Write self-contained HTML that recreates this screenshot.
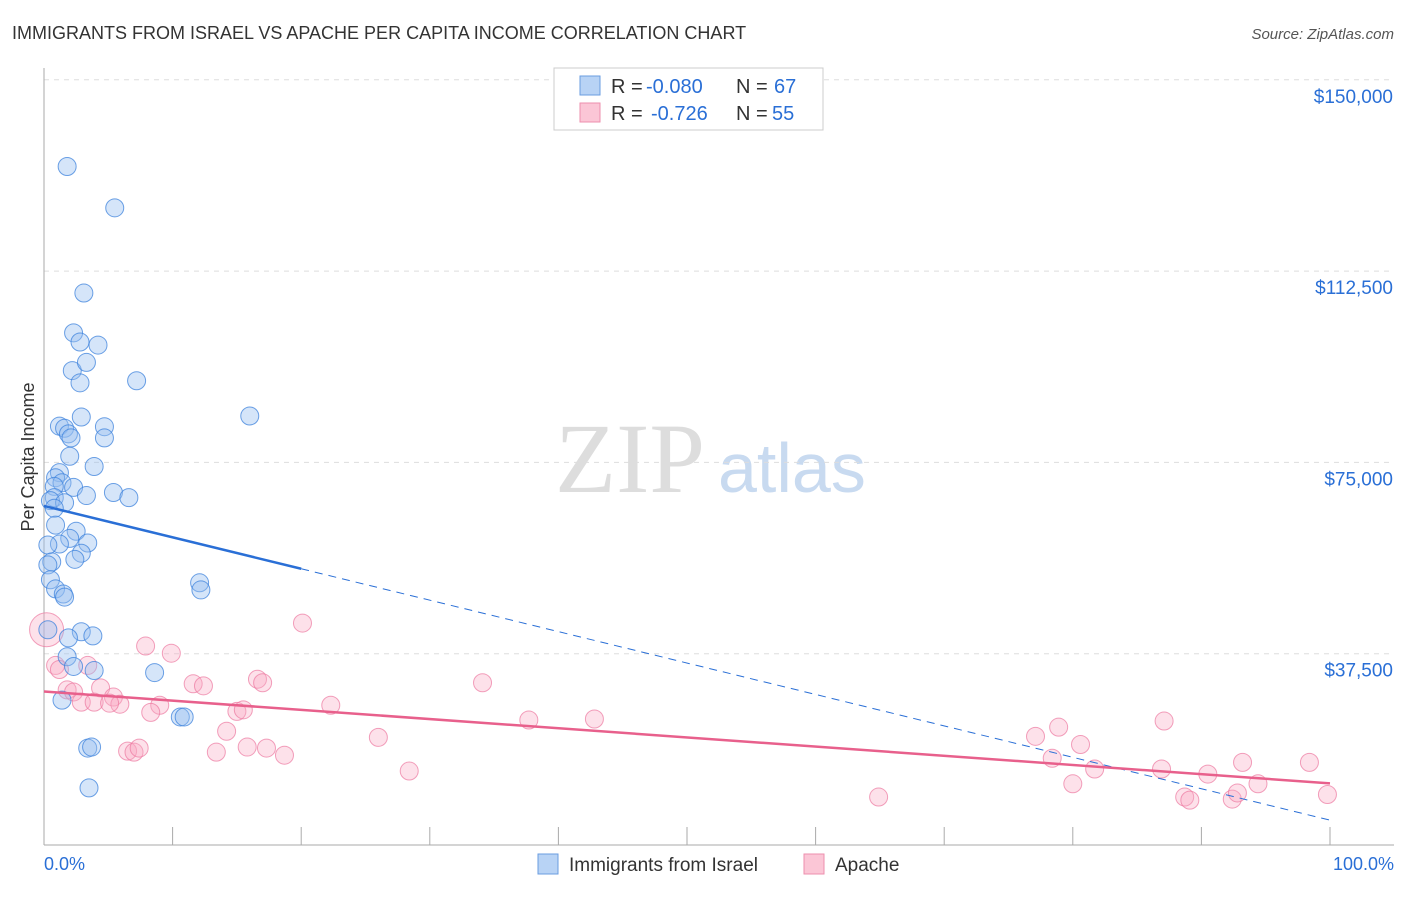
<!DOCTYPE html>
<html><head><meta charset="utf-8">
<style>
body{margin:0;background:#fff;font-family:"Liberation Sans",sans-serif;}
#wrap{position:relative;width:1406px;height:892px;}
</style></head>
<body>
<div id="wrap">
<svg id="chart" width="1406" height="892" xmlns="http://www.w3.org/2000/svg">
<text x="12" y="39" font-size="18" fill="#333">IMMIGRANTS FROM ISRAEL VS APACHE PER CAPITA INCOME CORRELATION CHART</text>
<text x="1394" y="39" font-size="15" fill="#555" font-style="italic" text-anchor="end">Source: ZipAtlas.com</text>
<text x="34" y="457" font-size="18" fill="#333" text-anchor="middle" transform="rotate(-90 34 457)">Per Capita Income</text>
<text x="555" y="492" font-size="100" fill="#ddd" font-family="Liberation Serif,serif">ZIP</text>
<text x="718" y="492" font-size="70" fill="#c8daf0">atlas</text>
<g id="grid"></g>
<g id="marks"></g>
<g>
<rect x="554" y="68" width="269" height="62" fill="#fff" stroke="#ccc"/>
<rect x="580" y="76" width="20" height="19" fill="#b8d3f5" stroke="#6a9de0"/>
<rect x="580" y="103" width="20" height="19" fill="#fbc6d6" stroke="#ee8fae"/>
<text x="611" y="93" font-size="20" fill="#333">R =</text>
<text x="646" y="93" font-size="20" fill="#2a6fd6">-0.080</text>
<text x="736" y="93" font-size="20" fill="#333">N =</text>
<text x="774" y="93" font-size="20" fill="#2a6fd6">67</text>
<text x="611" y="120" font-size="20" fill="#333">R =</text>
<text x="651" y="120" font-size="20" fill="#2a6fd6">-0.726</text>
<text x="736" y="120" font-size="20" fill="#333">N =</text>
<text x="772" y="120" font-size="20" fill="#2a6fd6">55</text>
</g>
<g>
<rect x="538" y="854" width="20" height="20" fill="#b8d3f5" stroke="#6a9de0"/>
<text x="569" y="871" font-size="19" fill="#333">Immigrants from Israel</text>
<rect x="804" y="854" width="20" height="20" fill="#fbc6d6" stroke="#ee8fae"/>
<text x="835" y="871" font-size="19" fill="#333">Apache</text>
</g>
<text x="44" y="870" font-size="18" fill="#2a6fd6">0.0%</text>
<text x="1394" y="870" font-size="18" fill="#2a6fd6" text-anchor="end">100.0%</text>
</svg>
</div>
<script>
const yTicks=[37500,75000,112500,150000];
const yTickLabels=["$37,500","$75,000","$112,500","$150,000"];
const xTicks=[0,10,20,30,40,50,60,70,80,90,100];
const israelX=[1.8,5.5,3.1,2.3,2.8,4.2,2.2,3.3,2.8,7.2,16.0,2.9,1.2,1.6,1.9,2.1,4.7,4.7,2.0,3.9,1.2,0.9,1.4,0.8,2.3,3.3,5.4,6.6,0.8,0.5,1.6,0.8,0.9,2.5,2.0,3.4,1.2,0.3,2.9,2.4,0.6,0.3,0.5,0.9,1.5,1.6,12.1,12.2,0.3,2.9,1.9,3.8,1.8,2.3,3.9,8.6,1.4,10.6,10.9,3.4,3.7,3.5];
const israelY=[133000,124900,108200,100400,98600,98000,93000,94600,90600,91000,84100,83900,82100,81700,80600,79800,82000,79800,76200,74200,73000,72000,71000,70300,70100,68500,69100,68100,68100,67500,67100,66000,62700,61500,60100,59200,59000,58800,57200,56000,55500,54900,52000,50200,49200,48600,51400,50000,42200,41800,40600,41000,36900,35000,34200,33800,28400,25100,25100,19000,19200,11200];
const apacheX=[0.2,0.9,1.2,3.4,1.8,2.3,2.9,4.4,3.9,5.4,5.9,5.1,7.9,9.9,9.0,8.3,11.6,12.4,6.5,7.0,7.4,13.4,14.2,15.0,15.5,15.8,16.6,17.0,17.3,18.7,20.1,22.3,26.0,28.4,34.1,37.7,42.8,64.9,77.1,78.4,78.9,80.0,80.6,81.7,86.9,87.1,88.7,89.1,90.5,92.4,92.8,93.2,94.4,98.4,99.8];
const apacheY=[42200,35200,34400,35200,30400,30000,28000,30800,28000,29000,27600,27800,39000,37600,27400,26000,31600,31200,18400,18200,19000,18200,22300,26200,26500,19200,32500,31800,19000,17600,43500,27400,21100,14500,31800,24500,24700,9400,21300,17000,23100,12000,19700,14900,14900,24300,9400,8800,13900,9000,10200,16200,12000,16200,9900];
const big=[true].concat(new Array(54).fill(false));
const X0=44,X1=1330,Y0=845,pxPer=191.3/37500;
const sx=p=>X0+(X1-X0)*p/100;
const sy=v=>Y0-v*pxPer;
const NS="http://www.w3.org/2000/svg";
const grid=document.getElementById('grid'),marks=document.getElementById('marks');
function mk(tag,attrs,parent){const e=document.createElementNS(NS,tag);for(const k in attrs)e.setAttribute(k,attrs[k]);parent.appendChild(e);return e;}
yTicks.forEach((t,i)=>{
  const l=mk('line',{x1:X0,x2:1394,y1:sy(t),y2:sy(t),stroke:'#ddd','stroke-dasharray':'5,5'},grid);
  
  
  const tx=mk('text',{x:1393,y:sy(t)+23,'font-size':19,fill:'#2a6fd6','text-anchor':'end'},grid);
  tx.textContent=yTickLabels[i];
  
  
});
const ax=mk('line',{x1:X0,x2:X0,y1:68,y2:Y0,stroke:'#aaa'},grid);


const bx=mk('line',{x1:X0,x2:1394,y1:Y0,y2:Y0,stroke:'#aaa'},grid);


xTicks.forEach(t=>{
  const l=mk('line',{x1:sx(t),x2:sx(t),y1:Y0,y2:Y0-18,stroke:'#aaa'},grid);
  
  
});
apacheX.forEach((x,i)=>{
  const c=mk('circle',{cx:sx(x),cy:sy(apacheY[i]),r:big[i]?17:9,fill:'rgba(248,170,195,0.35)',stroke:'rgba(236,120,160,0.7)','stroke-width':1},marks);
  
  
});
israelX.forEach((x,i)=>{
  const c=mk('circle',{cx:sx(x),cy:sy(israelY[i]),r:9,fill:'rgba(150,190,240,0.4)',stroke:'rgba(60,130,220,0.75)','stroke-width':1},marks);
  
  
});
function fit(xs,ys){const n=xs.length;let mx=0,my=0;xs.forEach((x,i)=>{mx+=x;my+=ys[i];});mx/=n;my/=n;let a=0,b=0;xs.forEach((x,i)=>{a+=(x-mx)*(ys[i]-my);b+=(x-mx)*(x-mx);});const s=a/b;return[my-s*mx,s];}
const fi=[66470,-616];
const fa=fit(apacheX,apacheY);
const t1=mk('line',{x1:sx(0),y1:sy(fi[0]),x2:sx(20),y2:sy(fi[0]+fi[1]*20),stroke:'#2a6fd6','stroke-width':2.5},marks);


const t2=mk('line',{x1:sx(20),y1:sy(fi[0]+fi[1]*20),x2:sx(100),y2:sy(fi[0]+fi[1]*100),stroke:'#2a6fd6','stroke-width':1,'stroke-dasharray':'8,6'},marks);


const t3=mk('line',{x1:sx(0),y1:sy(fa[0]),x2:sx(100),y2:sy(fa[0]+fa[1]*100),stroke:'#e8608c','stroke-width':2.5},marks);


</script>
</body></html>
